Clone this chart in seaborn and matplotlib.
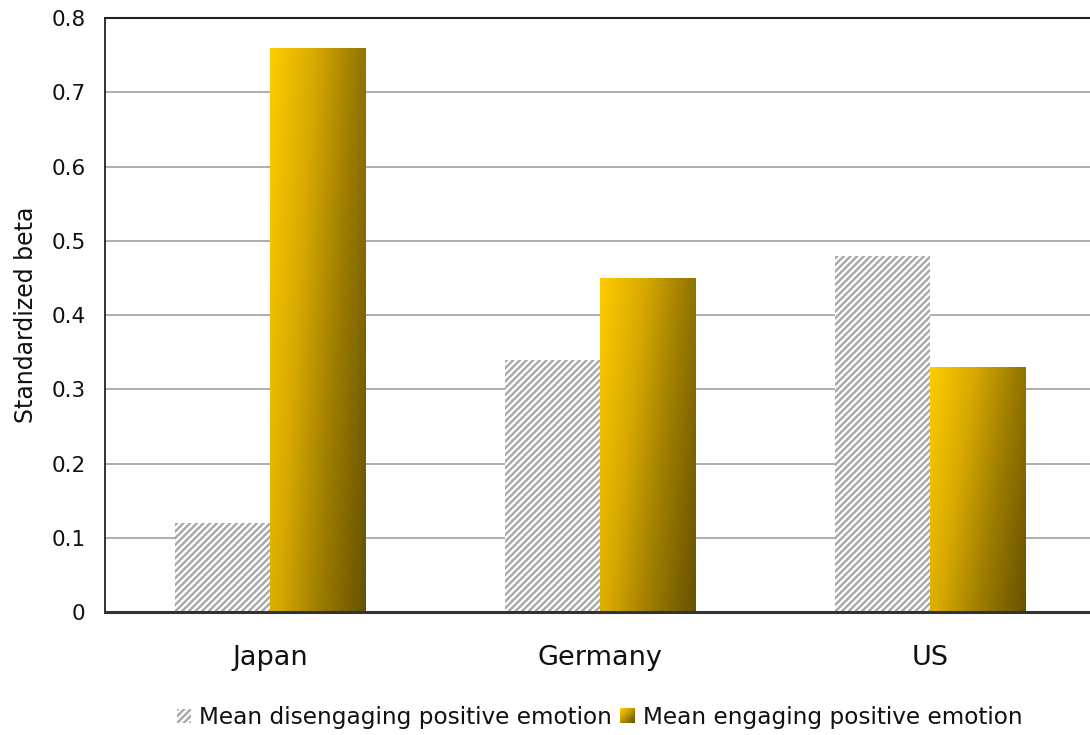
import numpy as np
import pandas as pd
import matplotlib
matplotlib.use("Agg")
import matplotlib.pyplot as plt
import seaborn as sns
from matplotlib.colors import LinearSegmentedColormap
from matplotlib.legend_handler import HandlerBase
from matplotlib.image import BboxImage
from matplotlib.transforms import Bbox, TransformedBbox
from matplotlib.patches import Rectangle

# Data
countries = ["Japan", "Germany", "US"]
series = ["Mean disengaging positive emotion", "Mean engaging positive emotion"]
disengaging = [0.12, 0.34, 0.48]
engaging = [0.76, 0.45, 0.33]
y_ticks = [0, 0.1, 0.2, 0.3, 0.4, 0.5, 0.6, 0.7, 0.8]
y_tick_labels = ["0", "0.1", "0.2", "0.3", "0.4", "0.5", "0.6", "0.7", "0.8"]

df = pd.DataFrame({
    "country": countries * 2,
    "series": [series[0]] * 3 + [series[1]] * 3,
    "beta": disengaging + engaging,
})

sns.set_theme(style="white")
plt.rcParams["font.family"] = ["DejaVu Sans"]
plt.rcParams["hatch.linewidth"] = 1.7
plt.rcParams["hatch.color"] = "#A8A8A8"

gold = LinearSegmentedColormap.from_list(
    "gold", ["#FFCC00", "#D8AA00", "#9A7A00", "#665200"])

fig = plt.figure(figsize=(10.9, 7.35), dpi=100)
ax = fig.add_axes([0.0965, 0.1673, 0.9035, 0.8082])

sns.barplot(data=df, x="country", y="beta", hue="series", hue_order=series,
            order=countries, width=0.578, palette=["white", "#D4A700"],
            saturation=1, errorbar=None, legend=False, ax=ax)

n = len(countries)
hatch_bars = ax.patches[:n]
grad_bars = ax.patches[n:2 * n]

for p in hatch_bars:
    p.set_facecolor("white")
    p.set_edgecolor("#A8A8A8")
    p.set_linewidth(0)
    p.set_hatch("/////")
    p.set_zorder(2)


def gradient_array(res=200):
    u = np.linspace(0, 1, res)[None, :]
    v = np.linspace(1, 0, res)[:, None]  # row 0 is the top
    return 0.72 * u + 0.28 * (1 - v)


for p in grad_bars:
    p.set_facecolor("none")
    p.set_linewidth(0)
    x0, y0 = p.get_x(), p.get_y()
    w, h = p.get_width(), p.get_height()
    im = ax.imshow(gradient_array(), cmap=gold, vmin=0, vmax=1,
                   extent=[x0, x0 + w, y0, y0 + h], origin="upper",
                   aspect="auto", zorder=2, interpolation="bilinear")
    im.set_clip_path(p)

ax.set_xlim(-0.5, 2.485)
ax.set_ylim(0, 0.8)
ax.set_yticks(y_ticks)
ax.set_yticklabels(y_tick_labels)
ax.yaxis.grid(True, color="#A0A0A0", linewidth=1.2)
ax.set_axisbelow(True)

ax.set_xlabel("")
ax.set_ylabel("Standardized beta", fontsize=17, color="#111111", labelpad=10)
ax.tick_params(axis="y", direction="in", length=5, width=1, color="#222222",
               labelsize=15.5, labelcolor="#111111", pad=14)
ax.tick_params(axis="x", which="major", length=0, labelsize=19.5,
               labelcolor="#111111", pad=24)
ax.set_xticks([0.5, 1.5], minor=True)
ax.tick_params(axis="x", which="minor", direction="in", length=9, width=1.5,
               color="#444444")

ax.spines["right"].set_visible(False)
ax.spines["top"].set_color("#222222")
ax.spines["top"].set_linewidth(1.5)
ax.spines["left"].set_color("#111111")
ax.spines["left"].set_linewidth(1.2)
ax.spines["bottom"].set_color("#333333")
ax.spines["bottom"].set_linewidth(2.2)


class GradientHandler(HandlerBase):
    def create_artists(self, legend, orig_handle, xdescent, ydescent,
                       width, height, fontsize, trans):
        s = min(width, height)
        x = (width - s) / 2 - xdescent
        y = (height - s) / 2 - ydescent
        bb = TransformedBbox(Bbox.from_bounds(x, y, s, s), trans)
        img = BboxImage(bb, cmap=gold, norm=plt.Normalize(0, 1),
                        interpolation="bilinear", origin="upper")
        u = np.linspace(0, 1, 40)[None, :]
        v = np.linspace(1, 0, 40)[:, None]
        img.set_data(0.5 * u + 0.5 * (1 - v))
        return [img]


class HatchHandler(HandlerBase):
    def create_artists(self, legend, orig_handle, xdescent, ydescent,
                       width, height, fontsize, trans):
        s = min(width, height)
        x = (width - s) / 2 - xdescent
        y = (height - s) / 2 - ydescent
        r = Rectangle((x, y), s, s, facecolor="white", edgecolor="#A8A8A8",
                      hatch="/////", linewidth=0, transform=trans)
        return [r]


h1 = Rectangle((0, 0), 1, 1)
h2 = Rectangle((0, 0), 1, 1)
fig.legend([h1, h2], series, loc="center", bbox_to_anchor=(0.55, 0.024),
           ncol=2, frameon=False, fontsize=16.7, handlelength=0.62,
           handleheight=0.62, handletextpad=0.35, columnspacing=0.35,
           handler_map={h1: HatchHandler(), h2: GradientHandler()},
           labelcolor="#111111")

fig.savefig("out.png", dpi=100)
